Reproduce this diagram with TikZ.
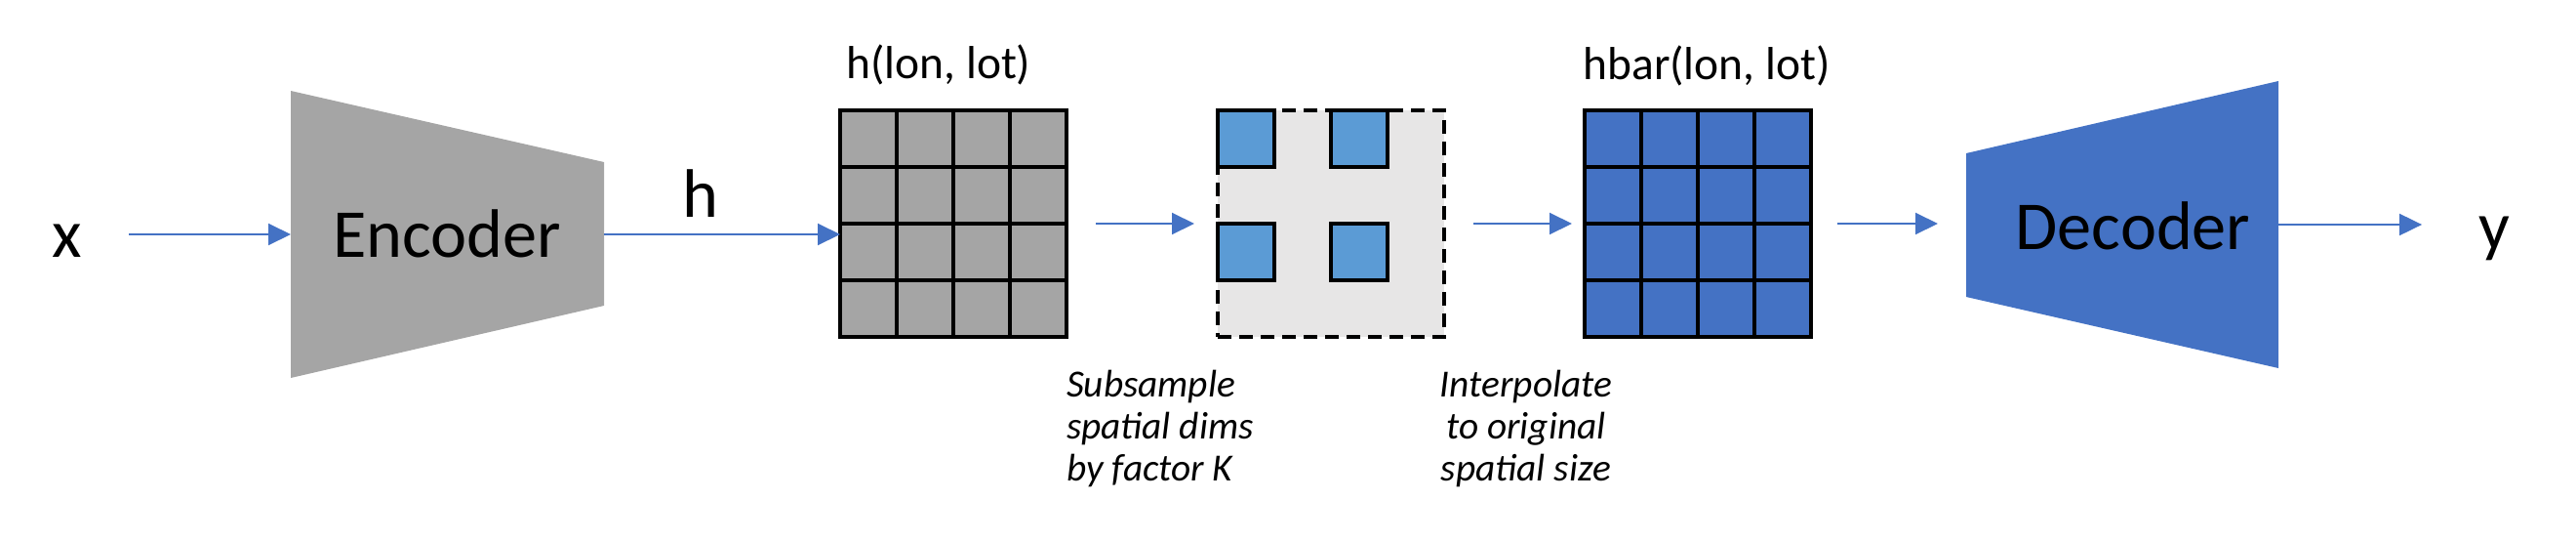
\documentclass[tikz,border=0pt]{standalone}
\usepackage{fontspec}
\setmainfont{Carlito}
\usetikzlibrary{positioning,arrows.meta,calc}

\definecolor{encgray}{HTML}{A5A5A5}
\definecolor{boxgray}{HTML}{E7E6E6}
\definecolor{decblue}{HTML}{4472C4}
\definecolor{cellblue}{HTML}{5B9BD5}

\begin{document}
\begin{tikzpicture}[
  scale=1,
  every node/.style={inner sep=0pt, outer sep=0pt},
  arrow/.style={-{Triangle[length=0.23cm,width=0.22cm]}, line width=0.02cm, draw=decblue, fill=decblue},
  biglabel/.style={font=\fontsize{20}{24}\selectfont},
  gridlabel/.style={font=\fontsize{13.5}{16}\selectfont},
  note/.style={font=\fontsize{11.2}{12.2}\selectfont\itshape, align=left},
  mapframe/.style={draw=black, line width=0.04cm, minimum width=2.32cm, minimum height=2.32cm},
  dashframe/.style={mapframe, dash pattern=on 0.14cm off 0.08cm},
  gridline/.style={draw=black, line width=0.04cm},
  subcell/.style={draw=black, line width=0.04cm, fill=cellblue, minimum width=0.58cm, minimum height=0.58cm, anchor=north west}
]
\useasboundingbox (0,0) rectangle (26.4,-5.54);

% Input and encoder
\node[biglabel, anchor=base] (xin) at (0.69,-2.63) {x};
\fill[encgray] (2.98,-0.93) -- (6.19,-1.66) -- (6.19,-3.13) -- (2.98,-3.87) -- cycle;
\node[biglabel, anchor=base] (enc) at (4.58,-2.63) {Encoder};
\coordinate (encin) at (2.98,-2.40);
\coordinate (encout) at (6.19,-2.40);
\node[biglabel, anchor=base] (hout) at (7.18,-2.22) {h};

% Latent map h(lon, lot)
\node[mapframe, fill=encgray] (hgrid) at (9.77,-2.29) {};
\foreach \i in {1,2,3} {
  \draw[gridline] ([xshift=\i*0.58cm]hgrid.north west) -- ([xshift=\i*0.58cm]hgrid.south west);
  \draw[gridline] ([yshift=-\i*0.58cm]hgrid.north west) -- ([yshift=-\i*0.58cm]hgrid.north east);
}
\node[gridlabel, anchor=base] (hlab) at (9.62,-0.80) {h(lon, lot)};

% Subsampled map
\node[dashframe, fill=boxgray] (sub) at (13.64,-2.29) {};
\foreach \c/\r in {0/0,2/0,0/2,2/2}
  \node[subcell] (sq\c\r) at ([xshift=\c*0.58cm, yshift=-\r*0.58cm]sub.north west) {};

% Interpolated map hbar(lon, lot)
\node[mapframe, fill=decblue] (hbar) at (17.40,-2.29) {};
\foreach \i in {1,2,3} {
  \draw[gridline] ([xshift=\i*0.58cm]hbar.north west) -- ([xshift=\i*0.58cm]hbar.south west);
  \draw[gridline] ([yshift=-\i*0.58cm]hbar.north west) -- ([yshift=-\i*0.58cm]hbar.north east);
}
\node[gridlabel, anchor=base] (hbarlab) at (17.49,-0.81) {hbar(lon, lot)};

% Decoder and output
\fill[decblue] (20.15,-1.57) -- (23.35,-0.83) -- (23.35,-3.77) -- (20.15,-3.04) -- cycle;
\node[biglabel, anchor=base] (dec) at (21.86,-2.55) {Decoder};
\coordinate (decin) at (20.15,-2.30);
\coordinate (decout) at (23.35,-2.30);
\node[biglabel, anchor=base] (yout) at (25.56,-2.55) {y};

% Notes under the arrows (base = last line)
\node[note, anchor=base west] (subnote) at (10.93,-4.92) {Subsample\\spatial dims\\by factor K};
\node[note, align=center, anchor=base] (intnote) at (15.64,-4.92) {Interpolate\\to original\\spatial size};

% Arrows
\draw[arrow, shorten <=0.48cm] (xin.east |- encin) -- (encin);
\draw[arrow] (encout) -- (encout -| hgrid.west);
\draw[arrow, shorten <=0.30cm, shorten >=0.24cm] (hgrid.east) -- (sub.west);
\draw[arrow, shorten <=0.30cm, shorten >=0.13cm] (sub.east) -- (hbar.west);
\draw[arrow, shorten <=0.27cm, shorten >=0.29cm] (hbar.east) -- (hbar.east -| decin);
\draw[arrow, shorten >=0.58cm] (decout) -- (decout -| yout.west);

\end{tikzpicture}
\end{document}
